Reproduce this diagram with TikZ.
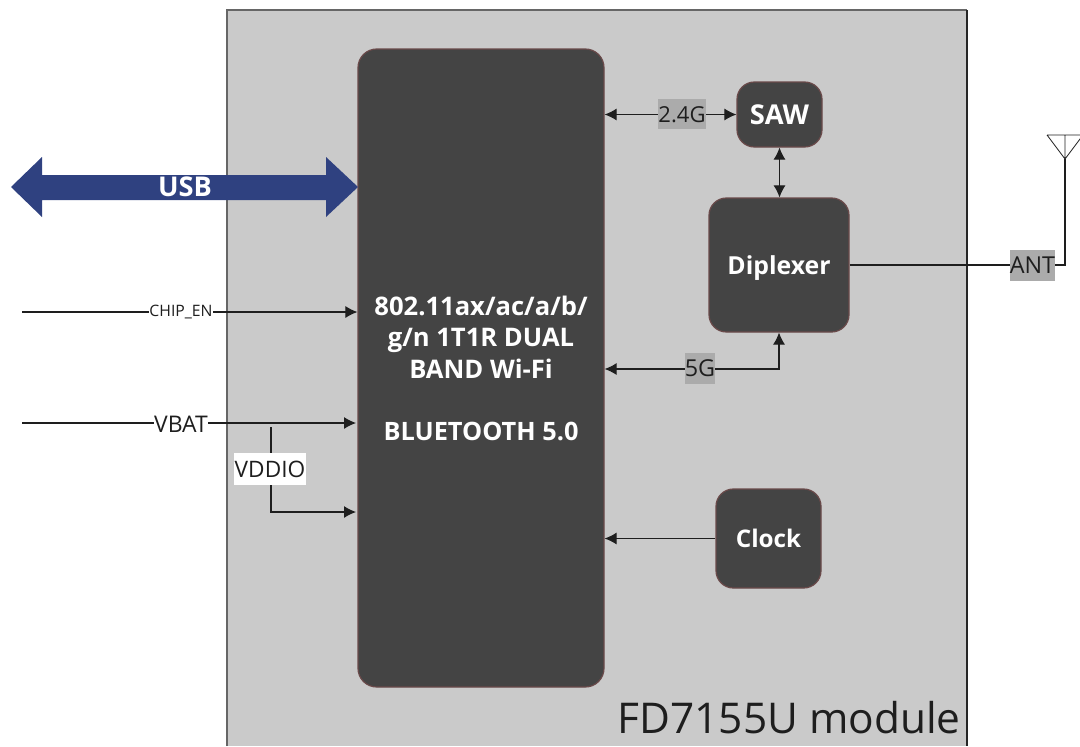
\documentclass[tikz,border=0pt]{standalone}
\usepackage{fontspec}
\setmainfont{Open Sans}
\usetikzlibrary{arrows.meta,calc}
\definecolor{modfill}{HTML}{CACACA}
\definecolor{blockfill}{HTML}{444444}
\definecolor{blockedge}{HTML}{6A4A4A}
\definecolor{usbblue}{HTML}{2F4180}
\definecolor{taggray}{HTML}{ABABAB}
\definecolor{ink}{HTML}{1E1E1E}
\tikzset{
  x=0.75pt,y=-0.75pt,
  block/.style={draw=blockedge,line width=0.9pt,fill=blockfill,rounded corners=#1,inner sep=0pt,
     text=white,font=\bfseries\fontsize{19}{24}\selectfont,align=center},
  wire/.style={draw=ink,line width=0.8pt},
  tip/.style={-{Latex[length=9pt,width=9pt]}},
  bitip/.style={{Latex[length=9pt,width=9pt]}-{Latex[length=9pt,width=9pt]}},
  tag/.style={fill=taggray,text=ink,inner xsep=0pt,inner ysep=0pt,text height=15pt,text depth=3pt,anchor=center},
  plain/.style={fill=white,text=ink,inner xsep=0pt,inner ysep=0pt,anchor=center},
}
\begin{document}
\begin{tikzpicture}
\useasboundingbox (0,0) rectangle (1080,746);
\clip (0,0) rectangle (1080,746);
% module panel
\fill[modfill] (227,10) rectangle (967,746);
\draw[draw=black!60,line width=1.1pt] (227,746) -- (227,10) -- (967,10);
\draw[draw=black!85,line width=0.8pt] (967,10) -- (967,746);
\node[text=ink,anchor=base east,inner sep=0pt,font=\fontsize{31.8}{38}\selectfont] (title) at (961,733) {FD7155U module};
% blocks
\node[block=14pt,minimum width=184.5pt,minimum height=478.5pt] (main) at (481,368) {};
\node[block=13pt,minimum width=63.75pt,minimum height=48.75pt,font=\bfseries\fontsize{20.5}{24}\selectfont] (saw) at (779.5,114.5) {SAW};
\node[block=13pt,minimum width=105pt,minimum height=100.5pt,font=\bfseries\fontsize{18.6}{24}\selectfont,text height=14.5pt,text depth=0pt] (dip) at (779,265) {Diplexer};
\node[block=13pt,minimum width=78.75pt,minimum height=74.25pt,font=\bfseries\fontsize{18.2}{24}\selectfont] (clock) at (768.5,538.5) {Clock};
\node[text=white,font=\bfseries\fontsize{19.2}{23.6}\selectfont,align=center,inner sep=0pt] (wifi) at (481,337)
  {802.11ax/ac/a/b/\\g/n 1T1R DUAL\\BAND Wi-Fi};
\node[text=white,font=\bfseries\fontsize{19}{24}\selectfont,inner sep=0pt] (bt) at (481,431) {BLUETOOTH 5.0};
% USB
\fill[usbblue] (11,187) -- (42,157) -- (42,175) -- (326,175) -- (326,157) -- (358,187) -- (326,217) -- (326,200) -- (42,200) -- (42,217) -- cycle;
\node[text=white,font=\bfseries\fontsize{20.4}{24}\selectfont,inner sep=0pt] (usb) at (185,187) {USB};
% free ends
\coordinate (chipin) at (22,312);
\coordinate (vbatin) at (22,423);
\coordinate (vbatjoin) at (271,427);
\coordinate (vddioend) at (356,512);
\coordinate (ant) at (1065,159);
\coordinate (antl) at (1047,135);
\coordinate (antr) at (1083,135);
\coordinate (antc) at (1065,135);
% connectors
\draw[wire,tip] (chipin) -- (main.west |- chipin);
\draw[wire,tip] (vbatin) -- (356,423);
\draw[wire,tip] (vbatjoin) |- (vddioend);
\draw[wire,bitip] (main.east |- saw.west) -- (saw.west);
\draw[wire,bitip] (saw.south) -- (saw.south |- dip.north);
\draw[wire,bitip] (main.east |- 0,369) -- (dip.south |- 0,369) -- (dip.south);
\draw[wire,tip] (clock.west) -- (main.east |- clock.west);
\draw[wire] (dip.east) -- (ant |- dip.east) -- (ant);
\draw[draw=ink,line width=0.6pt] (antl) -- (antr) (antl) -- (ant) -- (antr) (antc) -- (ant);
% labels on wires
\node[plain,font=\fontsize{11.8}{14}\selectfont,minimum width=47pt,minimum height=7pt] (chiplab) at (181,312) {CHIP\_EN};
\node[plain,font=\fontsize{17.2}{20}\selectfont,minimum width=41pt,minimum height=7pt] (vbatlab) at (181,424) {VBAT};
\node[plain,font=\fontsize{17}{20}\selectfont,minimum width=54pt,minimum height=24pt] (vddiolab) at (270,469) {VDDIO};
\node[tag,font=\fontsize{16.5}{18}\selectfont,minimum width=36pt,minimum height=22.5pt] (l24) at (682,114) {2.4G};
\node[tag,font=\fontsize{17.5}{18}\selectfont,minimum width=22.5pt,minimum height=23pt] (l5) at (700,368.5) {5G};
\node[tag,font=\fontsize{17.5}{18}\selectfont,minimum width=33.5pt,minimum height=23pt] (lant) at (1032.5,265.5) {ANT};
\end{tikzpicture}
\end{document}
